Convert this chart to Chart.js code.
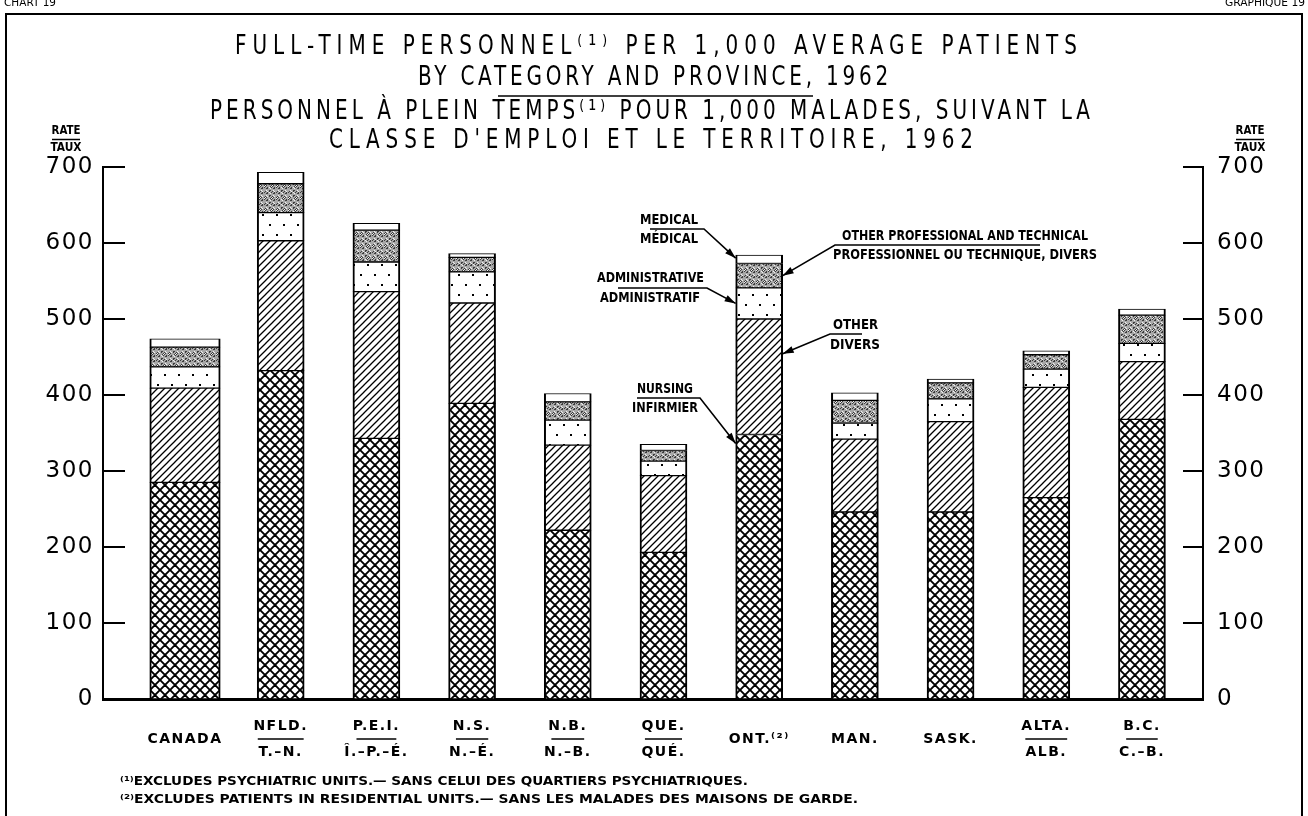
<!DOCTYPE html>
<html>
<head>
<meta charset="utf-8">
<script src="https://cdn.jsdelivr.net/npm/chart.js@4.4.1/dist/chart.umd.min.js"></script>
<style>
  html, body { margin: 0; padding: 0; background: #fff; overflow: hidden; }
  #wrap { position: relative; width: 1308px; height: 816px; }
  #frame { position: absolute; left: 5px; top: 13px; width: 1294px; height: 900px; border: 2px solid #000; pointer-events: none; }
</style>
</head>
<body>
<div id="wrap">
  <canvas id="grafico" width="1308" height="816"></canvas>
  <div id="frame"></div>
</div>
<script>
// Categorias (inglês / francês) e valores
const categorias = ['CANADA', 'NFLD.', 'P.E.I.', 'N.S.', 'N.B.', 'QUE.', 'ONT.⁽²⁾', 'MAN.', 'SASK.', 'ALTA.', 'B.C.'];
const categoriasFr = ['', 'T.–N.', 'Î.–P.–É.', 'N.–É.', 'N.–B.', 'QUÉ.', '', '', '', 'ALB.', 'C.–B.'];

const infirmier = [285, 432, 343, 389, 222, 193, 348, 246, 246, 265, 368];     // nursing
const divers = [124, 171, 193, 132, 112, 101, 152, 96, 119, 145, 76];          // other
const administratif = [28, 37, 39, 41, 33, 19, 41, 21, 30, 24, 24];            // administrative
const professionnel = [26, 38, 42, 19, 24, 14, 32, 30, 21, 19, 37];            // other professional and technical
const medical = [11, 15, 9, 5, 11, 8, 11, 10, 5, 5, 8];                        // medical

const graduacoes = [0, 100, 200, 300, 400, 500, 600, 700];

const titulo = [
    'FULL-TIME PERSONNEL⁽¹⁾ PER 1,000 AVERAGE PATIENTS',
    'BY CATEGORY AND PROVINCE, 1962',
    'PERSONNEL À PLEIN TEMPS⁽¹⁾ POUR 1,000 MALADES, SUIVANT LA',
    'CLASSE D\'EMPLOI ET LE TERRITOIRE, 1962'
];
const notas = [
    '⁽¹⁾EXCLUDES PSYCHIATRIC UNITS.— SANS CELUI DES QUARTIERS PSYCHIATRIQUES.',
    '⁽²⁾EXCLUDES PATIENTS IN RESIDENTIAL UNITS.— SANS LES MALADES DES MAISONS DE GARDE.'
];

const fonteTitulo = "'DejaVu Sans', sans-serif";
const fonteEixo = "'DejaVu Sans', sans-serif";
const fonteNota = "bold 14px 'DejaVu Sans Condensed', 'DejaVu Sans', sans-serif";

const canvas = document.getElementById('grafico');
const ctx = canvas.getContext('2d');

// Texturas das barras
function criarPadrao(w, h, desenhar) {
    const c = document.createElement('canvas');
    c.width = w;
    c.height = h;
    const g = c.getContext('2d');
    g.fillStyle = '#fff';
    g.fillRect(0, 0, w, h);
    desenhar(g, w, h);
    return ctx.createPattern(c, 'repeat');
}

const padraoCruzado = criarPadrao(10, 10, (g) => {
    g.strokeStyle = '#000';
    g.lineWidth = 1.9;
    g.beginPath();
    g.moveTo(-2, -2); g.lineTo(12, 12);
    g.moveTo(-5, 5); g.lineTo(5, 15);
    g.moveTo(5, -5); g.lineTo(15, 5);
    g.moveTo(12, -2); g.lineTo(-2, 12);
    g.moveTo(5, -5); g.lineTo(-5, 5);
    g.moveTo(15, 5); g.lineTo(5, 15);
    g.stroke();
});

const padraoHachura = criarPadrao(7, 7, (g) => {
    g.strokeStyle = '#000';
    g.lineWidth = 1.3;
    g.beginPath();
    g.moveTo(-1, 8); g.lineTo(8, -1);
    g.moveTo(-4, 4); g.lineTo(4, -4);
    g.moveTo(3, 11); g.lineTo(11, 3);
    g.stroke();
});

const padraoPontos = criarPadrao(14, 20, (g) => {
    g.fillStyle = '#000';
    g.fillRect(3, 4, 2, 2);
    g.fillRect(10, 14, 2, 2);
});

const padraoCinza = criarPadrao(12, 12, (g) => {
    g.fillStyle = '#a8a8a8';
    g.fillRect(0, 0, 12, 12);
    for (let y = 0; y < 12; y++) {
        for (let x = 0; x < 12; x++) {
            const k = (x * 5 + y * 3 + x * y) % 7;
            if (k < 2) {
                g.fillStyle = '#3c3c3c';
                g.fillRect(x, y, 1, 1);
            } else if (k === 4) {
                g.fillStyle = '#f0f0f0';
                g.fillRect(x, y, 1, 1);
            }
        }
    }
});

function serie(label, valores, fundo) {
    return {
        label: label,
        data: valores.map((v, i) => ({ x: i, y: v })),
        backgroundColor: fundo,
        borderColor: '#000',
        borderWidth: { top: 1, bottom: 1, left: 2, right: 2 },
        borderSkipped: false,
        barThickness: 47
    };
}

function rotulo(i) {
    return categoriasFr[i] ? [categorias[i], categoriasFr[i]] : categorias[i];
}

const espacoEixos = 1.5;

function linha(c, x1, y1, x2, y2, largura) {
    c.lineWidth = largura || 1.5;
    c.beginPath();
    c.moveTo(x1, y1);
    c.lineTo(x2, y2);
    c.stroke();
}

function seta(c, pontos) {
    c.lineWidth = 1.6;
    c.beginPath();
    c.moveTo(pontos[0][0], pontos[0][1]);
    for (let i = 1; i < pontos.length; i++) c.lineTo(pontos[i][0], pontos[i][1]);
    c.stroke();
    const [ax, ay] = pontos[pontos.length - 2];
    const [bx, by] = pontos[pontos.length - 1];
    const ang = Math.atan2(by - ay, bx - ax);
    c.beginPath();
    c.moveTo(bx, by);
    c.lineTo(bx - 11 * Math.cos(ang) + 3.5 * Math.sin(ang), by - 11 * Math.sin(ang) - 3.5 * Math.cos(ang));
    c.lineTo(bx - 11 * Math.cos(ang) - 3.5 * Math.sin(ang), by - 11 * Math.sin(ang) + 3.5 * Math.cos(ang));
    c.closePath();
    c.fill();
}

// texto esticado ou comprimido para uma largura dada
function textoAjustado(c, texto, x, y, largura, alinhamento) {
    const w = c.measureText(texto).width;
    c.save();
    c.translate(x, y);
    c.scale(largura / w, 1);
    c.textAlign = alinhamento || 'left';
    c.fillText(texto, 0, 0);
    c.restore();
}

// letras estreitas (escala fixa) e espaçamento ajustado à largura pedida
function textoLetreiro(c, texto, cx, y, largura, escala) {
    c.save();
    c.letterSpacing = '0px';
    const w = c.measureText(texto).width;
    const esp = (largura / escala - w) / [...texto].length;
    c.letterSpacing = esp + 'px';
    c.translate(cx, y);
    c.scale(escala, 1);
    c.textAlign = 'center';
    c.fillText(texto, esp / 2, 0);
    c.restore();
}

// Espaçamento das letras dos eixos
const espacamento = {
    id: 'espacamento',
    beforeLayout(chart) {
        chart.ctx.letterSpacing = espacoEixos + 'px';
    },
    beforeDraw(chart) {
        chart.ctx.letterSpacing = espacoEixos + 'px';
    }
};

// Barra do Canadá mais larga
const larguraCanada = {
    id: 'larguraCanada',
    afterDatasetsUpdate(chart) {
        chart.data.datasets.forEach((ds, i) => {
            const barra = chart.getDatasetMeta(i).data[0];
            if (barra) barra.width = barra.width * 1.5;
        });
    }
};

// Título, marcas dos eixos, legendas com setas, notas de rodapé
const decoracao = {
    id: 'decoracao',
    afterDraw(chart) {
        const c = chart.ctx;
        const area = chart.chartArea;
        c.save();
        c.letterSpacing = '0px';
        c.strokeStyle = '#000';
        c.fillStyle = '#000';
        c.textBaseline = 'middle';

        // título
        c.font = '27px ' + fonteTitulo;
        textoLetreiro(c, titulo[0], 656, 47, 848, 0.74);
        textoLetreiro(c, titulo[1], 653, 78, 474, 0.74);
        textoLetreiro(c, titulo[2], 650, 112, 884, 0.74);
        textoLetreiro(c, titulo[3], 651, 141, 650, 0.74);
        linha(c, 498, 96, 813, 96, 1.5);

        // marcas internas dos eixos
        const ey = chart.scales.y;
        graduacoes.forEach(v => {
            const py = ey.getPixelForValue(v);
            if (v > 0) {
                linha(c, area.left, py, area.left + 22, py, 2);
                linha(c, area.right - 20, py, area.right, py, 2);
            }
        });

        // traço entre rótulos inglês / francês
        const ex = chart.scales.x;
        ex.getLabelItems().forEach(item => {
            if (!Array.isArray(item.label)) return;
            const [tx, ty] = item.options.translation;
            const lh = item.font.lineHeight;
            const ySep = ty + item.textOffset + lh / 2;
            c.font = item.font.string;
            const w = c.measureText(item.label[0]).width + espacoEixos * item.label[0].length;
            linha(c, tx - w * 0.42, ySep, tx + w * 0.42, ySep, 1.5);
        });

        // RATE / TAUX
        c.font = "bold 13px 'DejaVu Sans Condensed', 'DejaVu Sans', sans-serif";
        [66, 1250].forEach(cx => {
            textoAjustado(c, 'RATE', cx, 131, 29, 'center');
            textoAjustado(c, 'TAUX', cx, 148, 31, 'center');
            linha(c, cx - 14, 139.5, cx + 14, 139.5, 1.5);
        });

        // legendas apontando para a barra de Ontário
        const ont = 6;
        const el = (k) => chart.getDatasetMeta(k).data[ont];
        const eN = el(0), eO = el(1), eA = el(2), eP = el(3), eM = el(4);
        const esq = eN.x - eN.width / 2;
        const dir = eN.x + eN.width / 2;
        c.font = fonteNota;

        textoAjustado(c, 'MEDICAL', 640, 220, 58);
        textoAjustado(c, 'MÉDICAL', 640, 239, 58);
        seta(c, [[650, 229], [704, 229], [esq, eM.y + 3]]);

        textoAjustado(c, 'ADMINISTRATIVE', 597, 278, 107);
        textoAjustado(c, 'ADMINISTRATIF', 600, 298, 100);
        seta(c, [[618, 288], [707, 288], [esq, (eA.y + eA.base) / 2]]);

        textoAjustado(c, 'NURSING', 637, 389, 56);
        textoAjustado(c, 'INFIRMIER', 632, 408, 66);
        seta(c, [[637, 398], [700, 398], [esq, eN.y + 9]]);

        textoAjustado(c, 'OTHER', 833, 325, 45);
        textoAjustado(c, 'DIVERS', 830, 345, 50);
        seta(c, [[862, 334], [830, 334], [dir, eO.y + 0.3 * (eO.base - eO.y)]]);

        textoAjustado(c, 'OTHER PROFESSIONAL AND TECHNICAL', 842, 236, 246);
        textoAjustado(c, 'PROFESSIONNEL OU TECHNIQUE, DIVERS', 833, 255, 264);
        seta(c, [[1040, 245], [835, 245], [dir, (eP.y + eP.base) / 2]]);

        // notas de rodapé
        c.font = "bold 12px 'DejaVu Sans', sans-serif";
        textoAjustado(c, notas[0], 120, 782, 628);
        textoAjustado(c, notas[1], 120, 800, 738);

        // cabeçalho cortado no topo
        c.font = "11px 'DejaVu Sans', sans-serif";
        textoAjustado(c, 'CHART 19', 4, 3, 52);
        textoAjustado(c, 'GRAPHIQUE 19', 1305, 3, 80, 'right');
        c.restore();
    }
};

const grafico = new Chart(ctx, {
    type: 'bar',
    data: {
        datasets: [
            serie('Nursing — Infirmier', infirmier, padraoCruzado),
            serie('Other — Divers', divers, padraoHachura),
            serie('Administrative — Administratif', administratif, padraoPontos),
            serie('Other professional and technical — Professionnel ou technique, divers', professionnel, padraoCinza),
            serie('Medical — Médical', medical, '#ffffff')
        ]
    },
    options: {
        responsive: false,
        animation: false,
        layout: { padding: { top: 167, bottom: 0, left: 0, right: 0 } },
        plugins: {
            legend: { display: false },
            tooltip: { enabled: false }
        },
        scales: {
            x: {
                type: 'linear',
                stacked: true,
                min: -0.857,
                max: 10.638,
                offset: false,
                z: 1,
                grid: { display: false, offset: false, drawTicks: false },
                border: { display: true, color: '#000', width: 3 },
                afterBuildTicks: (s) => { s.ticks = categorias.map((c, i) => ({ value: i })); },
                afterFit: (s) => { s.height = 117; },
                ticks: {
                    autoSkip: false,
                    maxRotation: 0,
                    minRotation: 0,
                    crossAlign: 'center',
                    padding: 27,
                    color: '#000',
                    font: { family: fonteEixo, size: 14, weight: 'bold', lineHeight: '26px' },
                    callback: (v, i) => rotulo(i)
                }
            },
            y: {
                stacked: true,
                min: 0,
                max: 700,
                position: 'left',
                z: 1,
                grid: { display: false, drawTicks: false },
                border: { display: true, color: '#000', width: 2 },
                afterBuildTicks: (s) => { s.ticks = graduacoes.map(v => ({ value: v })); },
                afterFit: (s) => { s.width = 103; },
                ticks: { padding: 9, color: '#000', font: { family: fonteEixo, size: 23 } }
            },
            y2: {
                min: 0,
                max: 700,
                position: 'right',
                z: 1,
                grid: { display: false, drawTicks: false },
                border: { display: true, color: '#000', width: 2 },
                afterBuildTicks: (s) => { s.ticks = graduacoes.map(v => ({ value: v })); },
                afterFit: (s) => { s.width = 105; },
                ticks: { padding: 14, color: '#000', font: { family: fonteEixo, size: 23 } }
            }
        }
    },
    plugins: [espacamento, larguraCanada, decoracao]
});
</script>
</body>
</html>
